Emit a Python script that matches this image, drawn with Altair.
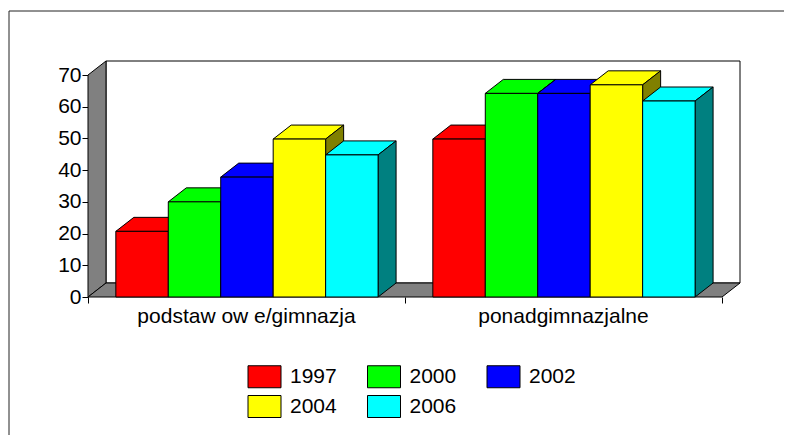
import altair as alt
import pandas as pd

categories = ["podstaw ow e/gimnazja", "ponadgimnazjalne"]
years = ["1997", "2000", "2002", "2004", "2006"]
values_1997 = [20.7, 49.8]
values_2000 = [30.0, 64.2]
values_2002 = [37.8, 64.2]
values_2004 = [49.8, 66.9]
values_2006 = [44.8, 61.8]
front_colors = ["#ff0000", "#00ff00", "#0000ff", "#ffff00", "#00ffff"]
side_colors = ["#800000", "#008000", "#000080", "#808000", "#008080"]
y_ticks = [0, 10, 20, 30, 40, 50, 60, 70]

series = [values_1997, values_2000, values_2002, values_2004, values_2006]

PX_W, PX_H = 654, 236
UNIT_X, UNIT_Y = 317.0, 222.0 / 70
DX, DY = 18 / UNIT_X, 14 / UNIT_Y
BAR_W, BAR_START = 52.45 / UNIT_X, 0.0878
YMAX = 70.0
n = len(categories)

xs = alt.Scale(domain=[0, PX_W / UNIT_X], nice=False, zero=False)
ys = alt.Scale(domain=[0, PX_H / UNIT_Y], nice=False, zero=False)
cs = alt.Scale(domain=years, range=front_colors)

x_axis = alt.Axis(values=list(range(n + 1)), labels=False, domain=False, grid=False,
                  tickSize=6, tickColor="black", title=None)
y_axis = alt.Axis(values=y_ticks, domain=False, grid=False, tickSize=6, tickColor="black",
                  labelFont="Liberation Sans", labelFontSize=21, labelColor="black",
                  labelPadding=1, title=None)

legend = alt.Legend(
    title=None, orient="none", legendX=165, legendY=304, columns=3, direction="horizontal",
    symbolType="M-1.5,-1H1.5V1H-1.5Z", symbolSize=484, symbolStrokeColor="black",
    symbolStrokeWidth=1, symbolOpacity=1, labelOffset=14, columnPadding=28.5, rowPadding=3,
    labelFont="Liberation Sans", labelFontSize=21, labelColor="black", padding=0,
)


def vface(x0, x1, lo0, hi0, lo1, hi1, fill):
    """Parallelogram with vertical sides."""
    df = pd.DataFrame({"x": [x0, x1], "lo": [lo0, lo1], "hi": [hi0, hi1]})
    return alt.Chart(df).mark_area(fill=fill, stroke="black", strokeWidth=1, opacity=1).encode(
        x=alt.X("x:Q", scale=xs, axis=x_axis),
        y=alt.Y("lo:Q", scale=ys, axis=y_axis, stack=None),
        y2="hi:Q",
    )


def hface(y0, y1, l0, r0, l1, r1, fill):
    """Parallelogram with horizontal sides."""
    df = pd.DataFrame({"y": [y0, y1], "l": [l0, l1], "r": [r0, r1]})
    return alt.Chart(df).mark_area(orient="horizontal", fill=fill, stroke="black", strokeWidth=1, opacity=1).encode(
        y=alt.Y("y:Q", scale=ys, axis=y_axis),
        x=alt.X("l:Q", scale=xs, axis=x_axis, stack=None),
        x2="r:Q",
    )


wall_df = pd.DataFrame({"x": [DX], "x2": [n + DX], "y": [DY], "y2": [YMAX + DY]})
wall = alt.Chart(wall_df).mark_rect(fill="white", stroke="black", strokeWidth=1).encode(
    x=alt.X("x:Q", scale=xs, axis=x_axis),
    x2="x2:Q",
    y=alt.Y("y:Q", scale=ys, axis=y_axis),
    y2="y2:Q",
)

layers = [
    wall,
    vface(0, DX, 0, YMAX, DY, YMAX + DY, "#808080"),
    hface(0, DY, 0, n, DX, n + DX, "#808080"),
]

for c in range(n):
    for s, yr in enumerate(years):
        v = series[s][c]
        x0 = c + BAR_START + s * BAR_W
        x1 = x0 + BAR_W
        layers.append(hface(v, v + DY, x0, x1, x0 + DX, x1 + DX, front_colors[s]))
        layers.append(vface(x1, x1 + DX, 0, v, DY, v + DY, side_colors[s]))
        front = pd.DataFrame({"x": [x0], "x2": [x1], "y": [0.0], "y2": [v], "year": [yr]})
        layers.append(
            alt.Chart(front).mark_rect(stroke="black", strokeWidth=1).encode(
                x=alt.X("x:Q", scale=xs, axis=x_axis),
                x2="x2:Q",
                y=alt.Y("y:Q", scale=ys, axis=y_axis),
                y2="y2:Q",
                fill=alt.Fill("year:N", scale=cs, legend=legend),
            )
        )

labels = pd.DataFrame({"x": [i + 0.5 for i in range(n)], "t": categories})
layers.append(
    alt.Chart(labels).mark_text(font="Liberation Sans", fontSize=21, color="black", baseline="middle").encode(
        x=alt.X("x:Q", scale=xs, axis=x_axis), y=alt.value(256), text="t:N"
    )
)
# outer frame
layers.append(alt.Chart(pd.DataFrame({"a": [0]})).mark_rule(color="#222222", strokeWidth=1).encode(
    x=alt.value(-79), x2=alt.value(704), y=alt.value(-50)))
layers.append(alt.Chart(pd.DataFrame({"a": [0]})).mark_rule(color="#222222", strokeWidth=1).encode(
    x=alt.value(-79), y=alt.value(-50), y2=alt.value(374)))

chart = (
    alt.layer(*layers)
    .properties(width=PX_W, height=PX_H, background="white",
                autosize=alt.AutoSizeParams(type="none"),
                padding={"left": 80, "top": 53, "right": 42, "bottom": 138})
    .configure_view(stroke=None)
)

chart.save("out.html", embed_options={"renderer": "svg", "actions": False})
